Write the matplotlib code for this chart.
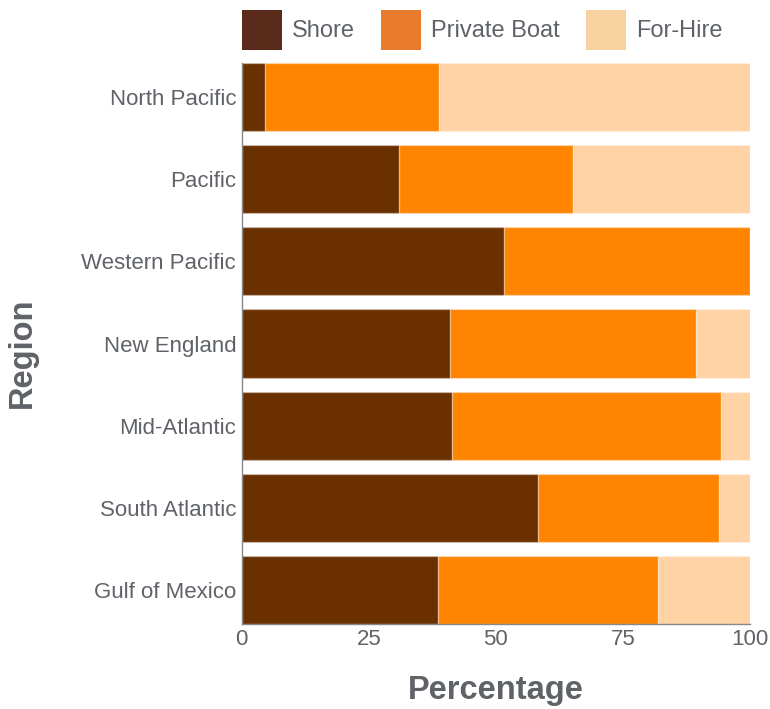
import numpy as np
import matplotlib.pyplot as plt
from matplotlib.patches import Patch

plt.rcParams['font.family'] = ['Liberation Sans', 'DejaVu Sans']

# データ
regions = ["North Pacific", "Pacific", "Western Pacific", "New England",
           "Mid-Atlantic", "South Atlantic", "Gulf of Mexico"]
shore = [4.5, 31.0, 51.5, 41.0, 41.3, 58.2, 38.7]
private_boat = [34.3, 34.2, 48.5, 48.4, 53.0, 35.7, 43.2]
for_hire = [61.2, 34.8, 0.0, 10.6, 5.7, 6.1, 18.1]

bar_colors = ["#6B3000", "#FF8500", "#FFD3A5"]
legend_colors = ["#5A2A1A", "#E87B2C", "#F7D2A0"]
series_names = ["Shore", "Private Boat", "For-Hire"]
text_color = "#5F6368"

fig = plt.figure(figsize=(7.7, 7.09), dpi=100)
ax = fig.add_axes([0.314, 0.12, 0.66, 0.791])

y = np.arange(len(regions))[::-1]
left = np.zeros(len(regions))
for vals, c in zip([shore, private_boat, for_hire], bar_colors):
    ax.barh(y, vals, left=left, height=0.83, color=c,
            edgecolor=(1, 1, 1, 0.3), linewidth=1)
    left += np.array(vals)

ax.set_xlim(0, 100)
ax.set_ylim(-0.415, len(regions) - 0.585)
ax.set_yticks(y)
ax.set_yticklabels(regions)
ax.set_xticks([0, 25, 50, 75, 100])
ax.tick_params(length=0, labelsize=16, colors=text_color)
ax.tick_params(axis='x', pad=4)
ax.tick_params(axis='y', pad=4)

for s in ["top", "right"]:
    ax.spines[s].set_visible(False)
for s in ["left", "bottom"]:
    ax.spines[s].set_color("#888888")
    ax.spines[s].set_linewidth(1)

ax.set_xlabel("Percentage", fontsize=23.5, fontweight="bold", color=text_color, labelpad=18)
ax.set_ylabel("Region", fontsize=23.5, fontweight="bold", color=text_color)
ax.yaxis.set_label_coords(-0.402, 0.483)

handles = [Patch(facecolor=c, edgecolor="none") for c in legend_colors]
fig.legend(handles, series_names, loc="upper left",
           bbox_to_anchor=(242 / 770, 1 - 10 / 709),
           ncol=3, frameon=False, fontsize=17, labelcolor=text_color,
           borderpad=0, borderaxespad=0,
           handlelength=1.7, handleheight=2.23, handletextpad=0.42, columnspacing=1.1)

fig.savefig("out.png", dpi=100)
plt.close()
